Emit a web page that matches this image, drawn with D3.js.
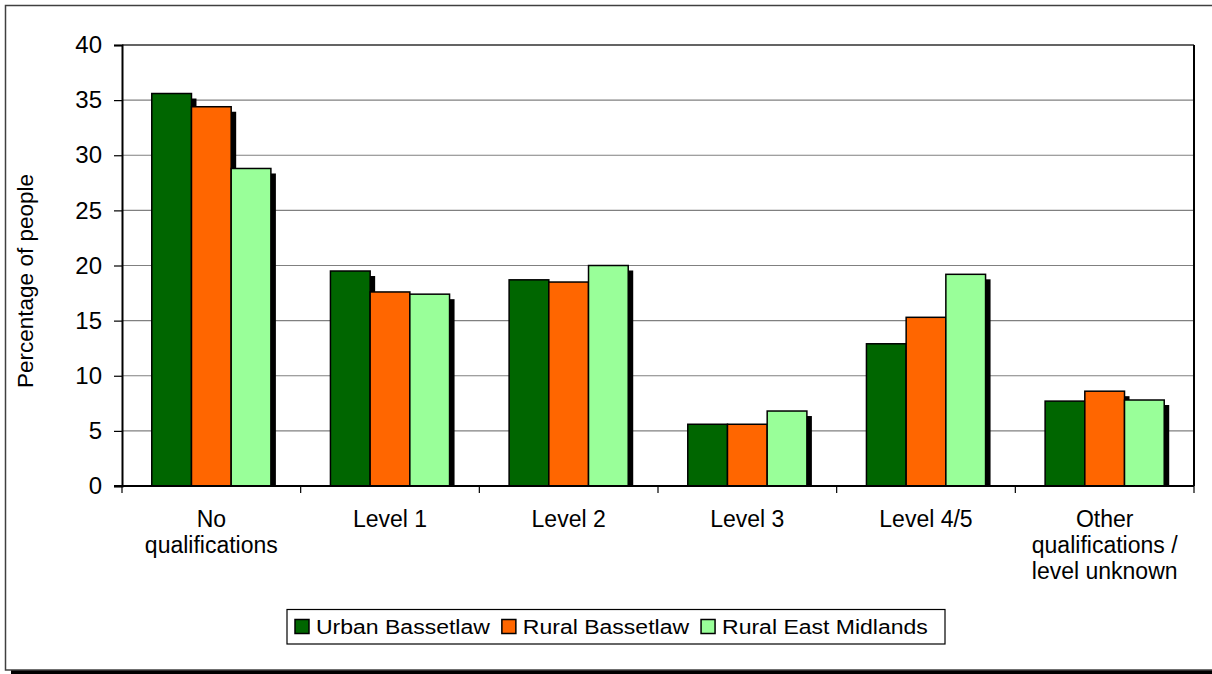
<!DOCTYPE html>
<html>
<head>
<meta charset="utf-8">
<script src="https://cdn.jsdelivr.net/npm/d3@7"></script>
<style>
  html, body { margin: 0; padding: 0; background: #fff; }
  svg { display: block; }
  text { font-family: "Liberation Sans", Arial, sans-serif; fill: #000; }
</style>
</head>
<body>
<svg id="chart" width="1212" height="674"></svg>
<script>
const categories = [
  ["No", "qualifications"],
  ["Level 1"],
  ["Level 2"],
  ["Level 3"],
  ["Level 4/5"],
  ["Other", "qualifications /", "level unknown"]
];
const seriesNames = ["Urban Bassetlaw", "Rural Bassetlaw", "Rural East Midlands"];
const urbanBassetlaw = [35.6, 19.5, 18.7, 5.6, 12.9, 7.7];
const ruralBassetlaw = [34.4, 17.6, 18.5, 5.6, 15.3, 8.6];
const ruralEastMidlands = [28.8, 17.4, 20.0, 6.8, 19.2, 7.8];
const seriesValues = [urbanBassetlaw, ruralBassetlaw, ruralEastMidlands];
const colors = ["#006600", "#FF6600", "#99FF99"];
const yTicks = [0, 5, 10, 15, 20, 25, 30, 35, 40];
const yTitle = "Percentage of people";

const svg = d3.select("#chart");
const W = 1212, H = 674;
const plot = { left: 122, right: 1194, top: 45, bottom: 486 };

// outer frame
svg.append("rect").attr("x", 11).attr("y", 670).attr("width", W).attr("height", 4).attr("fill", "#000");
svg.append("rect").attr("x", 5.5).attr("y", 5.5).attr("width", W + 10).attr("height", 664.5)
  .attr("fill", "#fff").attr("stroke", "#404040").attr("stroke-width", 1.5);

const catIdx = d3.range(categories.length);
const x0 = d3.scaleBand().domain(catIdx).range([plot.left, plot.right]).paddingInner(0).paddingOuter(0);
const x1 = d3.scaleBand().domain(d3.range(seriesNames.length)).range([0, x0.bandwidth()]).paddingInner(0).paddingOuter(0.75);
const y = d3.scaleLinear().domain([0, 40]).range([plot.bottom, plot.top]);

// gridlines
svg.append("g").selectAll("line").data(yTicks.filter(d => d > 0)).join("line")
  .attr("x1", plot.left).attr("x2", plot.right)
  .attr("y1", d => y(d)).attr("y2", d => y(d))
  .attr("stroke", d => d === 40 ? "#303030" : "#808080").attr("stroke-width", d => d === 40 ? 1.5 : 1.2);

// clip
svg.append("clipPath").attr("id", "plotclip").append("rect")
  .attr("x", plot.left).attr("y", plot.top).attr("width", plot.right - plot.left).attr("height", plot.bottom - plot.top);

const data = [];
catIdx.forEach(c => seriesValues.forEach((vals, s) => data.push({ c, s, v: vals[c] })));

const bars = svg.append("g").attr("clip-path", "url(#plotclip)");
data.forEach(d => {
  const g = bars.append("g");
  g.append("rect")
    .attr("x", x0(d.c) + x1(d.s) + 5)
    .attr("y", y(d.v) + 5)
    .attr("width", x1.bandwidth())
    .attr("height", y(0) - y(d.v))
    .attr("fill", "#000");
  g.append("rect")
    .attr("x", x0(d.c) + x1(d.s))
    .attr("y", y(d.v))
    .attr("width", x1.bandwidth())
    .attr("height", y(0) - y(d.v))
    .attr("fill", colors[d.s])
    .attr("stroke", "#000").attr("stroke-width", 1.5);
});

// right border
svg.append("line").attr("x1", plot.right).attr("x2", plot.right).attr("y1", plot.top).attr("y2", plot.bottom)
  .attr("stroke", "#000").attr("stroke-width", 2);

// y axis
const yAxis = d3.axisLeft(y).tickValues(yTicks).tickSize(8).tickPadding(12).tickFormat(d3.format("d"));
const yg = svg.append("g").attr("transform", `translate(${plot.left},0)`).call(yAxis);
yg.select(".domain").attr("stroke", "#000").attr("stroke-width", 2);
yg.selectAll(".tick line").attr("stroke", "#000").attr("stroke-width", 1.2);
yg.selectAll(".tick text").attr("font-size", 24).attr("font-family", "Liberation Sans, Arial, sans-serif").attr("fill", "#000");

// x axis
const xg = svg.append("g");
xg.append("line").attr("x1", plot.left - 8).attr("x2", plot.right).attr("y1", plot.bottom).attr("y2", plot.bottom)
  .attr("stroke", "#000").attr("stroke-width", 2);
const bounds = catIdx.map(c => x0(c)).concat([plot.right]);
xg.selectAll("line.tk").data(bounds).join("line").attr("class", "tk")
  .attr("x1", d => d).attr("x2", d => d).attr("y1", plot.bottom).attr("y2", plot.bottom + 7)
  .attr("stroke", "#000").attr("stroke-width", 1.2);
catIdx.forEach(c => {
  const t = xg.append("text").attr("text-anchor", "middle").attr("font-size", 23)
    .attr("x", x0(c) + x0.bandwidth() / 2).attr("y", 527);
  categories[c].forEach((line, i) => {
    t.append("tspan").attr("x", x0(c) + x0.bandwidth() / 2).attr("dy", i === 0 ? 0 : 26).text(line);
  });
});

// y title
svg.append("text").attr("transform", "translate(33,281) rotate(-90)")
  .attr("text-anchor", "middle").attr("font-size", 22.5).text(yTitle);

// legend
const lg = svg.append("g");
lg.append("rect").attr("x", 287).attr("y", 609.5).attr("width", 658).attr("height", 34.5)
  .attr("fill", "#fff").attr("stroke", "#000").attr("stroke-width", 1.2);
let lx = 295;
seriesNames.forEach((name, i) => {
  lg.append("rect").attr("x", lx).attr("y", 619.5).attr("width", 14).attr("height", 14)
    .attr("fill", colors[i]).attr("stroke", "#000").attr("stroke-width", 1.5);
  const t = lg.append("text").attr("x", lx + 21).attr("y", 634).attr("font-size", 20).text(name);
  const w = t.node().getComputedTextLength() * 1.15;
  t.attr("textLength", w).attr("lengthAdjust", "spacingAndGlyphs");
  lx += 21 + w + 12;
});
</script>
</body>
</html>
